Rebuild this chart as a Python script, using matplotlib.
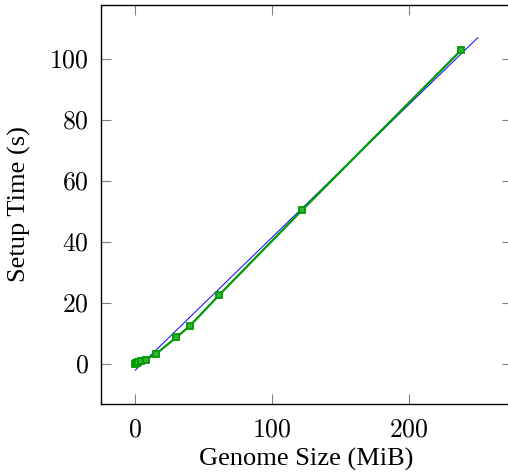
import matplotlib
matplotlib.use("Agg")
import matplotlib.pyplot as plt
import numpy as np

plt.rcParams['mathtext.fontset'] = 'cm'
plt.rcParams['font.family'] = ['Liberation Serif', 'DejaVu Serif']

genome_size = [0.1, 0.5, 1.0, 2.0, 4.0, 7.5, 15.0, 30.0, 40.0, 61.0, 122.0, 238.0]
setup_time = [0.0, 0.1, 0.2, 0.4, 0.8, 1.3, 3.1, 8.6, 12.4, 22.4, 50.5, 103.0]
fit_intercept = -2.2
fit_slope = 0.437
fit_range = [0.0, 250.0]
xticks = [0, 100, 200]
yticks = [0, 20, 40, 60, 80, 100]

green = (0.0, 0.6, 0.0)
fig = plt.figure(figsize=(5.08, 4.76), dpi=100)
ax = fig.add_axes([101/508, 1-404/476, 411/508, 399/476])

fx = np.array(fit_range)
ax.plot(fx, fit_intercept + fit_slope*fx, color='blue', lw=0.7, zorder=2)
ax.plot(genome_size, setup_time, color=green, lw=1.6, marker='s', ms=5,
        mfc=(0.2, 0.7, 0.2), mec=green, mew=1.3, zorder=3)

ax.set_xlim(-25, 275)
ax.set_ylim(-13.3, 117.8)
ax.set_xticks(xticks)
ax.set_yticks(yticks)
ax.set_xticklabels([f'${t}$' for t in xticks])
ax.set_yticklabels([f'${t}$' for t in yticks])
ax.tick_params(direction='in', length=7, width=0.8, color='0.5', top=True, right=True,
               labelsize=18.5)
ax.tick_params(axis='x', pad=11)
ax.tick_params(axis='y', pad=9)
for s in ax.spines.values():
    s.set_linewidth(1.0)
ax.set_xlabel('Genome Size (MiB)', fontsize=19, labelpad=5)
ax.set_ylabel('Setup Time (s)', fontsize=19, labelpad=13)

fig.savefig('out.png', dpi=100)
